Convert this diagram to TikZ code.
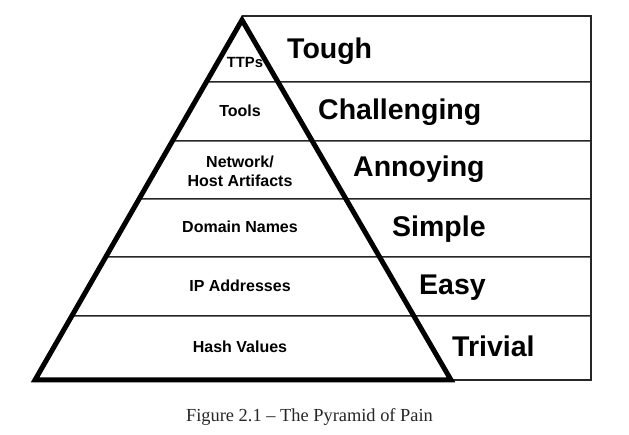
\documentclass[tikz,border=0pt]{standalone}
\usepackage{fontspec}
\setmainfont{Liberation Serif}
\setsansfont{Liberation Sans}
\usetikzlibrary{calc}

\tikzset{
  band/.style={line width=1.5pt, draw=black!85},
  pyramid/.style={line width=5pt},
  level/.style={font=\sffamily\bfseries\fontsize{16}{19}\selectfont, align=center, inner sep=0pt, anchor=base},
  effort/.style={font=\sffamily\bfseries\fontsize{28.5}{32}\selectfont, inner sep=0pt, anchor=base west},
  caption/.style={font=\fontsize{18.4}{22}\selectfont, inner sep=0pt, anchor=base, text=black!85}
}

\begin{document}
\begin{tikzpicture}[x=1pt,y=-1pt]
	\useasboundingbox (0,0) rectangle (629,435);
	% Corners
	\coordinate (apex) at (242,20);
	\coordinate (bl) at (35,380);
	\coordinate (br) at (451,380);
	\coordinate (tr) at (591,16);
	\coordinate (rr) at (591,380);

	% Table on the right
	\draw[band] (242,16) -- (tr) -- (rr) -- (br);
	\foreach \y in {82,141,199,257,316}
		\draw[band] ($(apex)!{(\y-20)/360}!(bl)$) -- (591,\y);

	% Pyramid
	\draw[pyramid] (apex) -- (bl) -- (br) -- cycle;

	% Levels
	\node[level, font=\sffamily\bfseries\fontsize{14.8}{17}\selectfont] (ttps) at (245,68) {TTPs};
	\node[level] (tools) at (240,117) {Tools};
	\node[level, anchor=center] (artifacts) at (240,171) {Network/\\Host Artifacts};
	\node[level] (domains) at (240,233) {Domain Names};
	\node[level] (ips) at (240,292) {IP Addresses};
	\node[level] (hashes) at (240,353) {Hash Values};

	% Effort
	\node[effort] (tough) at (287,59) {Tough};
	\node[effort] (challenging) at (318,120) {Challenging};
	\node[effort] (annoying) at (353,177) {Annoying};
	\node[effort] (simple) at (392,237) {Simple};
	\node[effort] (easy) at (419,295) {Easy};
	\node[effort] (trivial) at (452,357) {Trivial};

	\node[caption] (title) at (309.5,421) {Figure 2.1 -- The Pyramid of Pain};
\end{tikzpicture}
\end{document}
